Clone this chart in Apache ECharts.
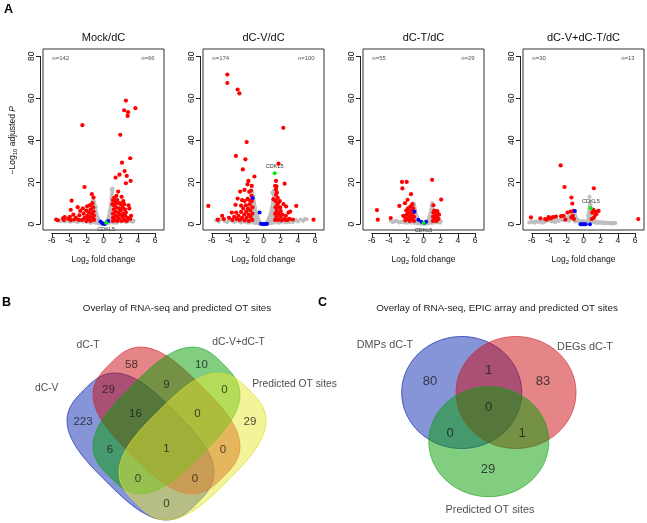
<!DOCTYPE html>
<html><head><meta charset="utf-8">
<script src="https://cdn.jsdelivr.net/npm/echarts@6/dist/echarts.min.js"></script>
<style>html,body{margin:0;padding:0;background:#fff}#c{width:647px;height:523px}</style>
</head><body><div id="c"></div>
<script>
// ---------------- DATA ----------------
const plotTitles = ['Mock/dC', 'dC-V/dC', 'dC-T/dC', 'dC-V+dC-T/dC'];
const nDown = [142, 174, 55, 30];
const nUp = [66, 100, 29, 13];
const xTicks = [-6, -4, -2, 0, 2, 4, 6];
const yTicks = [0, 20, 40, 60, 80];

const grayMock = [[-5.0,1.5],[-4.5,1.2],[-4.0,1.3],[-3.6,1.5],[-3.2,1.2],[-2.8,1.4],[-2.4,1.2],[-2.0,1.0],[-1.6,0.9],[-1.3,1.0],[-1.0,0.8],[-0.8,0.6],[-0.6,0.4],[-0.4,0.3],[-0.2,0.2],[0,0.1],[0.2,0.2],[0.4,0.4],[0.6,0.6],[0.8,0.8],[1.0,0.9],[1.3,1.0],[1.6,1.0],[2.0,1.2],[2.4,1.2],[2.8,1.3],[3.2,1.4],[3.5,1.6],
  [-0.5,1.5],[-0.6,2.5],[-0.7,3.5],[-0.8,4.5],[-0.9,6],[-1.0,7.5],[-1.0,9],[-1.05,10.5],[-0.9,3],[-1.0,5],[-1.2,12],[-0.75,2],
  [0.4,1.2],[0.5,2],[0.6,3],[0.65,4],[0.7,5.5],[0.8,7],[0.85,8.5],[0.9,10],[0.95,11.5],[1.0,13],[1.0,15],[1.05,17],[0.75,6],[0.9,4],[1.0,2.5],[0.6,1.6],
  [-0.45,0.8],[-0.55,1.0],[-0.65,1.8],[-0.7,2.8],[-0.8,3.5],[-0.85,5.2],[-0.95,6.5],[-0.9,8],[-1.1,8.5],[-1.15,10],[-1.25,11],[-0.3,0.6],[-0.95,1.5],[-1.2,2],[-1.3,1.5],
  [0.35,0.7],[0.45,1.5],[0.55,2.5],[0.62,3.5],[0.7,4.5],[0.75,5],[0.8,6],[0.85,7.5],[0.9,9],[0.92,12.5],[0.97,14],[1.0,16],[0.95,16.5],[0.8,2],[0.9,3],[0.95,5],[0.9,1.2],[1.1,1.0],[1.2,0.7],
  [-4.8,1.8],[-4.2,1.6],[-3.8,1.1],[-3.4,1.8],[-3.0,1.0],[-2.6,1.7],[-2.2,1.5],[-1.8,1.3],[2.2,1.5],[2.6,1.0],[3.0,1.7],[3.4,1.1],[1.8,1.5],[1.5,0.6],[-1.5,0.5]];
const redMock = [[-2.45,47.2],[2.6,58.9],[2.4,54.3],[2.85,53.4],[2.8,51.6],[3.7,55.3],[1.95,42.6],[3.1,31.4],[2.15,29.3],[2.45,25.3],[1.85,23.6],[2.7,23.0],[1.4,22.2],[3.15,20.6],[2.6,19.5],[-2.2,17.7],[-3.7,11.2],[-1.35,14.3],[-1.15,12.7],[-3.0,8.1],[-3.8,6.8],[-2.7,6.3],
  [1.7,15.5],[2.1,13],[1.5,13.5],[2.3,11],[2.0,9.5],[2.9,9],[3.0,7.5],[2.5,7],[3.2,4],[3.1,2.5],[2.8,3],
  [1.1,1.5],[1.1,3],[1.1,5],[1.2,7],[1.2,9],[1.3,11],[1.3,2],[1.4,4],[1.4,6],[1.5,8],[1.5,10],[1.6,1.5],[1.6,3.5],[1.7,5.5],[1.8,7.5],[1.8,2.5],[1.9,4.5],[2.0,6.5],[2.1,1.5],[2.2,3.5],[2.3,5],[2.4,2],[2.5,4],[2.6,5.5],[2.7,1.5],[1.25,12.5],[1.6,11.5],[1.9,10],[2.2,8],[2.4,9.5],[1.05,9.5],[1.1,11.5],
  [-1.1,2],[-1.1,4],[-1.15,6],[-1.2,8],[-1.3,10],[-1.3,3],[-1.4,5],[-1.5,7],[-1.5,1.5],[-1.6,3.5],[-1.7,5.5],[-1.8,2.5],[-1.9,4],[-2.0,6.5],[-2.0,1.5],[-2.2,3],[-2.3,5],[-2.5,2],[-1.6,9],[-1.9,8.5],[-2.4,7.5],
  [-5.5,2.2],[-5.3,1.8],[-4.7,2.8],[-4.5,3.4],[-4.6,2.0],[-4.1,2.6],[-3.9,3.5],[-3.8,1.9],[-3.4,2.2],[-3.2,3.0],[-2.9,2.0],[-2.8,4.2],[-3.5,4.5]];
const blueMock = [[-0.35,1.2],[-0.2,0.6],[-0.05,0.2],[0.15,0.1],[0.55,1.5]];
const greenMock = [[0.3,0.6]];

const grayV = [[-5.5,1.8],[-5.0,2.2],[-4.5,1.5],[-4.0,1.8],[-3.6,1.5],[-3.2,1.4],[-2.8,1.2],[-2.4,1.1],[-2.0,1.0],[-1.6,0.9],[-1.2,0.7],[-0.9,0.5],[-0.6,0.3],[-0.3,0.2],[0,0.1],[0.3,0.2],[0.6,0.3],[0.9,0.5],[1.2,0.7],[1.6,0.9],[2.0,1.0],[2.4,1.1],[2.8,1.3],[3.2,1.5],[3.6,1.6],[4.3,2.2],[5.0,2.3],[3.0,0.9],
  [-0.5,1.2],[-0.6,2.2],[-0.7,3.2],[-0.8,4.5],[-0.9,6],[-1.0,7.5],[-1.05,9],[-1.1,10.5],[-1.15,12],[-1.2,13.5],[-0.9,2.5],[-1.0,4],[-1.1,6],[-1.2,3],[-0.8,1.5],
  [0.5,1.2],[0.6,2.2],[0.7,3.2],[0.8,4.5],[0.9,6],[1.0,7.5],[1.05,9],[1.1,10.5],[1.15,12],[1.2,13.5],[0.9,2.5],[1.0,4],[1.1,6],[1.2,3],[0.8,1.5],[1.0,15],
  [-0.45,0.7],[-0.55,1.8],[-0.65,2.8],[-0.75,3.8],[-0.85,5.2],[-0.95,6.8],[-1.0,8.2],[-1.1,9.6],[-1.15,11.2],[-1.25,12.5],[-1.3,14.5],[-1.35,15.5],[-1.0,2],[-1.1,3.5],[-1.15,5],[-1.2,7],[-1.25,9],[-1.3,11],[-1.4,1.5],[-1.5,2.5],
  [0.45,0.7],[0.55,1.8],[0.65,2.8],[0.75,3.8],[0.85,5.2],[0.95,6.8],[1.0,8.2],[1.1,9.6],[1.15,11.2],[1.25,12.5],[1.3,14.5],[1.2,16],[1.0,2],[1.1,3.5],[1.15,5],[1.2,7],[1.25,9],[1.3,11],[1.4,1.5],[1.5,2.5],
  [-5.2,1.2],[-4.7,2.4],[-4.2,1.0],[-3.8,2.2],[-3.4,1.0],[-3.0,1.8],[-2.6,0.8],[-2.2,1.4],[-1.8,0.6],[1.8,0.6],[2.2,1.4],[2.6,0.8],[3.4,1.0],[3.8,2.0],[4.0,1.2],[4.6,1.5],[4.8,2.6]];
const redV = [[-4.2,71.3],[-4.2,67.3],[-3.0,64.2],[-2.8,62.3],[2.3,45.9],[-1.95,39.1],[-3.2,32.5],[-2.1,30.9],[1.75,28.8],[-2.4,26.1],[-1.05,22.7],[1.45,20.6],[-1.75,20.6],[2.45,19.3],[-6.4,8.7],[3.8,8.7],[5.8,2.1],[-5.3,2.1],[-4.8,4.0],[-4.6,2.4],[3.1,6.0],[2.6,4.0],[3.4,2.2],
  [-1.86,19],[-1.36,18.2],[-2.71,15.5],[-2.2,16.3],[-1.66,15.4],[-3.0,12.2],[-2.48,11.4],[-3.25,9.2],[-3.68,5.5],[-3.17,5.5],[-4.0,3.0],[1.35,18.2],[1.55,15],[1.16,11.9],[1.74,10.3],[1.94,7.9],[2.32,9.5],[2.63,8.4],[2.9,5.5],[2.0,4.0],
  [-1.3,2],[-1.3,5],[-1.3,8],[-1.35,11],[-1.4,13.5],[-1.5,3.5],[-1.55,6.5],[-1.6,9.5],[-1.7,1.5],[-1.75,4.5],[-1.8,7.5],[-1.85,12],[-1.95,3],[-2.0,6],[-2.05,9],[-2.2,1.8],[-2.25,4.5],[-2.35,7.5],[-2.5,3],[-2.6,5.8],[-2.75,2],[-2.9,4],[-3.1,2.5],[-2.2,11],[-2.6,8.8],[-1.45,16],[-1.65,11.5],[-3.4,3.5],[-3.6,2],
  [1.35,2],[1.35,5],[1.4,8],[1.4,11],[1.45,14],[1.5,3.5],[1.55,6.5],[1.6,9.5],[1.65,12.5],[1.7,2],[1.75,5],[1.8,8],[1.95,3.5],[2.0,6.2],[2.1,1.8],[2.2,4.5],[2.4,2.5],[1.45,16.5],[1.5,18],[1.9,11],[2.55,2],[2.8,2],[3.0,2.5]];
const blueV = [[-1.25,12.4],[-0.45,5.5],[-0.3,0.2],[-0.1,0.1],[0.1,0.05],[0.3,0.1],[0.4,0.2]];
const greenV = [[1.3,24.2]];

const grayT = [[-3.8,1.6],[-3.4,1.3],[-3.0,1.2],[-2.6,1.0],[-2.2,0.9],[-1.8,0.8],[-1.4,0.6],[-1.0,0.5],[-0.7,0.3],[-0.4,0.2],[-0.1,0.1],[0.2,0.1],[0.5,0.3],[0.8,0.5],[1.1,0.7],[1.4,0.8],[1.7,1.0],[2.0,1.2],
  [-0.6,1.3],[-0.7,2.5],[-0.8,3.8],[-0.9,5],[-1.0,6.5],[-1.05,8],[-1.1,9.5],[-0.95,2.5],[0.5,1.2],[0.6,2.3],[0.7,3.5],[0.8,4.8],[0.9,6.2],[0.95,7.5],[1.0,9],[0.85,2.2],
  [-0.5,0.6],[-0.65,1.8],[-0.75,3],[-0.85,4.3],[-0.95,5.8],[-1.0,7.2],[-1.1,8.7],[-1.15,10],[-0.9,1.5],[-1.05,3.2],
  [0.45,0.6],[0.55,1.7],[0.65,2.9],[0.75,4.2],[0.85,5.5],[0.9,6.8],[0.98,8.2],[1.02,10],[0.9,1.5],[1.0,3],[1.0,4.5],
  [-3.6,1.0],[-3.2,1.6],[-2.8,0.8],[-2.4,1.3],[-2.0,0.6],[1.9,0.7],[1.5,1.3],[1.2,1.6]];
const redT = [[-2.5,20.1],[-1.95,20.1],[-2.45,17.0],[1.0,21.1],[-1.45,14.3],[-1.85,11.6],[2.05,11.7],[-2.15,10.0],[-2.8,8.7],[1.15,9.0],[-5.4,6.7],[-5.3,2.1],[-3.8,2.9],[-2.35,4.0],
  [-1.1,1.5],[-1.1,3.5],[-1.15,5.5],[-1.2,7.5],[-1.35,2.5],[-1.4,4.5],[-1.45,6.5],[-1.5,8.5],[-1.6,1.5],[-1.65,3.5],[-1.7,5.5],[-1.8,7.5],[-1.9,2.5],[-1.95,4.5],[-2.0,6.5],[-2.1,1.8],[-2.2,3.5],[-1.3,9.5],
  [1.1,1.5],[1.1,3.5],[1.15,5.5],[1.3,2.5],[1.35,4.5],[1.5,1.5],[1.55,3.5],[1.6,5.5],[1.75,2.5],[1.8,4.5],[1.25,6.5],[1.6,6.2]];
const blueT = [[-1.05,6.0],[-0.6,2.1],[-0.25,1.1],[0.3,1.1],[0.1,0.6]];
const greenT = [[0.0,0.5]];

const grayVT = [[-6.3,0.8],[-5.9,1.0],[-5.5,1.4],[-5.1,1.2],[-4.7,1.5],[-4.3,1.6],[-3.9,1.8],[-3.5,1.8],[-3.1,2.0],[-2.7,2.2],[-2.3,2.0],[-1.9,2.2],[-1.5,2.5],[-1.1,2.2],[-0.8,1.5],[-0.5,1.0],[-0.2,0.8],[0.1,0.8],[0.4,1.2],[0.7,1.8],[1.0,1.5],[1.3,1.2],[1.6,1.0],[1.9,1.0],[2.2,0.9],[2.5,0.8],[2.8,0.7],[3.1,0.6],[3.4,0.5],[3.7,0.5],[-2.5,3.0],[-1.7,3.5],[-3.3,0.9],[-4.8,0.7],[-1.2,4.5],[-0.9,3.5],
  [0.6,3],[0.65,4.5],[0.7,6],[0.75,7.5],[0.8,9],[0.7,13.0],[0.85,5],[0.9,3.5],
  [-6.0,1.3],[-5.7,0.6],[-5.3,1.0],[-4.9,1.9],[-4.5,1.0],[-4.1,2.2],[-3.7,1.2],[-3.3,2.4],[-2.9,1.5],[-2.5,2.0],[-2.1,2.8],[-1.7,1.6],[-1.3,3.0],[-1.0,1.2],[-0.7,2.2],[-0.4,1.5],[0.0,1.5],[0.3,0.6],[0.55,2.2],[0.5,4],[0.6,5.5],[0.65,7],[0.7,8.5],[0.75,10],[0.85,2.5],[1.1,1.0],[1.4,0.6],[1.7,0.5],[2.0,0.6],[2.3,0.4],[2.6,0.5],[2.9,0.4],[3.2,0.3],[3.5,0.3],[-1.45,4.0],[-1.0,4.8]];
const redVT = [[-2.65,28.0],[-2.2,17.7],[1.2,17.1],[-1.4,12.7],[-1.3,9.8],[-1.85,5.5],[-2.6,3.8],[-2.3,4.0],[-6.1,3.2],[-5.0,2.7],[-4.45,2.4],[-4.05,3.3],[-3.8,2.7],[-3.55,3.3],[-4.25,2.1],[-2.1,2.1],[-1.5,6.0],[-1.15,6.3],[-1.25,4.0],[-1.1,2.4],[1.0,5.5],[1.15,6.8],[1.35,4.3],[1.75,6.3],[0.95,2.4],[1.45,5.9],[6.35,2.4],[1.2,3.0],[1.5,4.8],[-1.4,3.2],[-3.2,3.6]];
const blueVT = [[-1.0,6.3],[-0.35,0],[-0.2,0],[-0.05,0],[0.1,0],[0.25,0],[0.75,0]];
const greenVT = [[0.85,7.6]];

const grayAll = [grayMock, grayV, grayT, grayVT];
const redAll = [redMock, redV, redT, redVT];
const blueAll = [blueMock, blueV, blueT, blueVT];
const greenAll = [greenMock, greenV, greenT, greenVT];
const greenGene = 'CDKL5';

// Venn B (4 sets)
const vennBTitle = 'Overlay of RNA-seq and predicted OT sites';
const vennBSets = ['dC-V', 'dC-T', 'dC-V+dC-T', 'Predicted OT sites'];
const vennBRegions = ['V','VT','T','VTG','TG','G','GP','P','VG','VTGP','TGP','TP','VGP','VTP','VP'];
const vennBCounts = [223, 29, 58, 16, 9, 10, 0, 29, 6, 1, 0, 0, 0, 0, 0];

// Venn C (3 sets)
const vennCTitle = 'Overlay of RNA-seq, EPIC array and predicted OT sites';
const vennCSets = ['DMPs dC-T', 'DEGs dC-T', 'Predicted OT sites'];
const vennCRegions = ['M','MD','D','MDP','MP','DP','P'];
const vennCCounts = [80, 1, 83, 0, 0, 1, 29];

// ---------------- LAYOUT / STYLE ----------------
const FONT = '"Liberation Sans", Arial, Helvetica, sans-serif';
const X_MIN = -7.02, X_MAX = 7.02, Y_MIN = -2.8, Y_MAX = 83.5;
const BOX_TOP = 49, BOX_H = 181, BOX_W = 121;
const greenLabelPos = ['bottom', 'top', 'bottom', 'top'];

// local coords of the Venn area (grid at top 270): cx, cy, a, b, rotation, exponent
const vennBShapes = [
  [140.5, 176.5, 80, 49, 45, 3],
  [166.5, 150.5, 80, 49, 45, 3],
  [166.5, 150.5, 80, 49, 135, 3],
  [192.5, 176.5, 80, 49, 135, 3]
];
const vennBColors = ['rgba(14,44,176,0.5)', 'rgba(203,12,18,0.5)', 'rgba(4,158,4,0.5)', 'rgba(232,232,52,0.5)'];
const vennBStroke = ['rgba(30,50,180,0.75)', 'rgba(210,30,40,0.6)', 'rgba(20,160,20,0.6)', 'rgba(220,220,40,0.75)'];
const vennBPos = {V:[83,152],VT:[108.5,120],T:[131.5,94.5],VTG:[135.5,144],TG:[166.5,114.5],G:[201.5,94.5],GP:[224.5,120],P:[250,152],VG:[110,179.5],VTGP:[166.5,178.5],TGP:[197.5,144],TP:[223,179.5],VGP:[138,208.5],VTP:[195,208.5],VP:[166.5,233.5]};
const vennBSetPos = [[46.7,118.3,'center'],[88,75,'center'],[238.5,71.7,'center'],[251.7,114.3,'left']];

const vennCShapes = [
  [461.7, 122.5, 60, 56, 0, 2],
  [516, 122.5, 60, 56, 0, 2],
  [488.8, 171.7, 60, 55, 0, 2]
];
const vennCColors = [vennBColors[0], vennBColors[1], vennBColors[2]];
const vennCStroke = [vennBStroke[0], vennBStroke[1], vennBStroke[2]];
const vennCPos = {M:[430,111],MD:[488.5,100],D:[543,111],MDP:[488.5,137],MP:[450,163.5],DP:[522,163.5],P:[488,199]};
const vennCSetPos = [[385,75,'center'],[585,77,'center'],[490,240,'center']];

// ---------------- BUILD ----------------
const grids = [], xAxes = [], yAxes = [], series = [], graphics = [];
const axisLineStyle = {color: '#222', width: 1};
const tickFont = {fontSize: 8.5, color: '#111', fontFamily: FONT};

for (let i = 0; i < 4; i++) {
  const L = 43 + 160 * i;
  const gi = grids.length;
  grids.push({left: L, top: BOX_TOP, width: BOX_W, height: BOX_H, show: true, borderColor: '#333', borderWidth: 1, backgroundColor: 'transparent', outerBoundsMode: 'none', containLabel: false});
  xAxes.push({gridIndex: gi, type: 'value', min: X_MIN, max: X_MAX, show: false, splitLine: {show: false}});
  yAxes.push({gridIndex: gi, type: 'value', min: Y_MIN, max: Y_MAX, show: false, splitLine: {show: false}});

  const x0 = xTicks[0], x1 = xTicks[xTicks.length - 1];
  const xl = L + (x0 - X_MIN) / (X_MAX - X_MIN) * BOX_W;
  const xw = (x1 - x0) / (X_MAX - X_MIN) * BOX_W;
  grids.push({left: xl, width: xw, top: BOX_TOP, height: BOX_H, show: false, outerBoundsMode: 'none', containLabel: false});
  xAxes.push({gridIndex: gi + 1, type: 'value', min: x0, max: x1, interval: xTicks[1] - xTicks[0], position: 'bottom', offset: 3,
    axisLine: {show: true, onZero: false, lineStyle: axisLineStyle}, axisTick: {show: true, length: 4, lineStyle: axisLineStyle},
    axisLabel: Object.assign({margin: 3}, tickFont), splitLine: {show: false},
    name: 'Log{sub|2} fold change', nameLocation: 'middle', nameGap: 21,
    nameTextStyle: {fontSize: 8.5, color: '#111', fontFamily: FONT, rich: {sub: {fontSize: 6, fontFamily: FONT, color: '#111', padding: [5, 0, 0, 0]}}}});
  yAxes.push({gridIndex: gi + 1, type: 'value', min: 0, max: 1, show: false, splitLine: {show: false}});

  const y0 = yTicks[0], y1 = yTicks[yTicks.length - 1];
  const yt = BOX_TOP + (Y_MAX - y1) / (Y_MAX - Y_MIN) * BOX_H;
  const yh = (y1 - y0) / (Y_MAX - Y_MIN) * BOX_H;
  grids.push({left: L, width: BOX_W, top: yt, height: yh, show: false, outerBoundsMode: 'none', containLabel: false});
  xAxes.push({gridIndex: gi + 2, type: 'value', min: 0, max: 1, show: false, splitLine: {show: false}});
  const yAx = {gridIndex: gi + 2, type: 'value', min: y0, max: y1, interval: yTicks[1] - yTicks[0], position: 'left', offset: 3,
    axisLine: {show: true, onZero: false, lineStyle: axisLineStyle}, axisTick: {show: true, length: 4, lineStyle: axisLineStyle},
    axisLabel: Object.assign({margin: 4, rotate: 90}, tickFont), splitLine: {show: false}};
  if (i === 0) {
    Object.assign(yAx, {name: '\u2212Log{sub|10} adjusted {it|P}', nameLocation: 'middle', nameGap: 22, nameRotate: 90,
      nameTextStyle: {fontSize: 8.5, color: '#111', fontFamily: FONT, rich: {sub: {fontSize: 6, fontFamily: FONT, color: '#111', padding: [5, 0, 0, 0]}, it: {fontSize: 8.5, fontStyle: 'italic', fontFamily: FONT, color: '#111'}}}});
  }
  yAxes.push(yAx);

  const base = {type: 'scatter', xAxisIndex: gi, yAxisIndex: gi, silent: true, animation: false};
  series.push(Object.assign({}, base, {symbolSize: 4, itemStyle: {color: '#bebebe', opacity: 1}, data: grayAll[i], z: 2}));
  series.push(Object.assign({}, base, {symbolSize: 4.2, itemStyle: {color: '#ff0000', opacity: 1}, data: redAll[i], z: 3}));
  series.push(Object.assign({}, base, {symbolSize: 4, itemStyle: {color: '#0000ff', opacity: 1}, data: blueAll[i], z: 4}));
  series.push(Object.assign({}, base, {symbolSize: 4, itemStyle: {color: '#00ee00', opacity: 1}, data: greenAll[i], z: 5,
    label: {show: true, formatter: greenGene, position: greenLabelPos[i], distance: 2, fontSize: 5.5, color: '#333', fontFamily: FONT}}));
  series.push(Object.assign({}, base, {symbolSize: 1, itemStyle: {color: 'rgba(0,0,0,0)'}, z: 6,
    data: [{value: [x0, 79], name: 'n=' + nDown[i], label: {position: 'right', distance: 0}}, {value: [x1, 79], name: 'n=' + nUp[i], label: {position: 'left', distance: 0}}],
    label: {show: true, formatter: p => p.name, fontSize: 6, color: '#222', fontFamily: FONT}}));

  graphics.push({type: 'text', x: L + BOX_W / 2, y: 38, style: {text: plotTitles[i], fontSize: 11, fontFamily: FONT, fill: '#111', textAlign: 'center', textVerticalAlign: 'middle'}});
}

// Venn grid
const vg = grids.length;
grids.push({left: 0, top: 270, width: 647, height: 253, show: false, outerBoundsMode: 'none', containLabel: false});
xAxes.push({gridIndex: vg, type: 'value', min: 0, max: 647, show: false, splitLine: {show: false}});
yAxes.push({gridIndex: vg, type: 'value', min: 0, max: 253, inverse: true, show: false, splitLine: {show: false}});

function ellipseRender(fills, strokes) {
  return function (params, api) {
    const cx = api.value(0), cy = api.value(1), a = api.value(2), b = api.value(3), rot = api.value(4) * Math.PI / 180, n = api.value(5);
    const k = params.dataIndex;
    const pts = [];
    for (let s = 0; s < 180; s++) {
      const t = s / 180 * 2 * Math.PI;
      const c = Math.cos(t), si = Math.sin(t);
      const ex = a * Math.sign(c) * Math.pow(Math.abs(c), 2 / n), ey = b * Math.sign(si) * Math.pow(Math.abs(si), 2 / n);
      pts.push(api.coord([cx + ex * Math.cos(rot) - ey * Math.sin(rot), cy + ex * Math.sin(rot) + ey * Math.cos(rot)]));
    }
    return {type: 'polygon', shape: {points: pts}, style: {fill: fills[k], stroke: strokes[k], lineWidth: 1}};
  };
}
series.push({type: 'custom', xAxisIndex: vg, yAxisIndex: vg, silent: true, animation: false, clip: false, z: 1,
  renderItem: ellipseRender(vennBColors, vennBStroke), data: vennBShapes});
series.push({type: 'custom', xAxisIndex: vg, yAxisIndex: vg, silent: true, animation: false, clip: false, z: 1,
  renderItem: ellipseRender(vennCColors, vennCStroke), data: vennCShapes});

function countSeries(regions, counts, pos, fs) {
  return {type: 'scatter', xAxisIndex: vg, yAxisIndex: vg, silent: true, animation: false, symbolSize: 1, z: 5,
    itemStyle: {color: 'rgba(0,0,0,0)'},
    label: {show: true, position: 'inside', formatter: p => String(p.value[2]), fontSize: fs, color: '#1a1a1a', fontFamily: FONT},
    data: regions.map((r, k) => ({name: r, value: [pos[r][0], pos[r][1], counts[k]]}))};
}
series.push(countSeries(vennBRegions, vennBCounts, vennBPos, 11.5));
series.push(countSeries(vennCRegions, vennCCounts, vennCPos, 13));

function setSeries(names, pos, fs) {
  return {type: 'scatter', xAxisIndex: vg, yAxisIndex: vg, silent: true, animation: false, symbolSize: 1, z: 5,
    itemStyle: {color: 'rgba(0,0,0,0)'},
    data: names.map((n, k) => ({name: n, value: [pos[k][0], pos[k][1]],
      label: {position: pos[k][2] === 'left' ? 'right' : 'inside', distance: 0}})),
    label: {show: true, formatter: p => p.name, fontSize: fs, color: '#1a1a1a', fontFamily: FONT}};
}
series.push(setSeries(vennBSets, vennBSetPos, 10.3));
series.push(setSeries(vennCSets, vennCSetPos, 10.8));

graphics.push({type: 'text', x: 177, y: 308, style: {text: vennBTitle, fontSize: 9.8, fontFamily: FONT, fill: '#222', textAlign: 'center', textVerticalAlign: 'middle'}});
graphics.push({type: 'text', x: 497, y: 308, style: {text: vennCTitle, fontSize: 9.8, fontFamily: FONT, fill: '#222', textAlign: 'center', textVerticalAlign: 'middle'}});
graphics.push({type: 'text', x: 8.5, y: 10, style: {text: 'A', fontSize: 12.5, fontWeight: 'bold', fontFamily: FONT, fill: '#000', textAlign: 'center', textVerticalAlign: 'middle'}});
graphics.push({type: 'text', x: 6.5, y: 302.5, style: {text: 'B', fontSize: 12.5, fontWeight: 'bold', fontFamily: FONT, fill: '#000', textAlign: 'center', textVerticalAlign: 'middle'}});
graphics.push({type: 'text', x: 322.5, y: 302.5, style: {text: 'C', fontSize: 12.5, fontWeight: 'bold', fontFamily: FONT, fill: '#000', textAlign: 'center', textVerticalAlign: 'middle'}});

const chart = echarts.init(document.getElementById('c'), null, {renderer: 'canvas'});
chart.setOption({
  animation: false,
  backgroundColor: '#ffffff',
  grid: grids, xAxis: xAxes, yAxis: yAxes, series: series,
  graphic: {elements: graphics}
});
</script></body></html>
